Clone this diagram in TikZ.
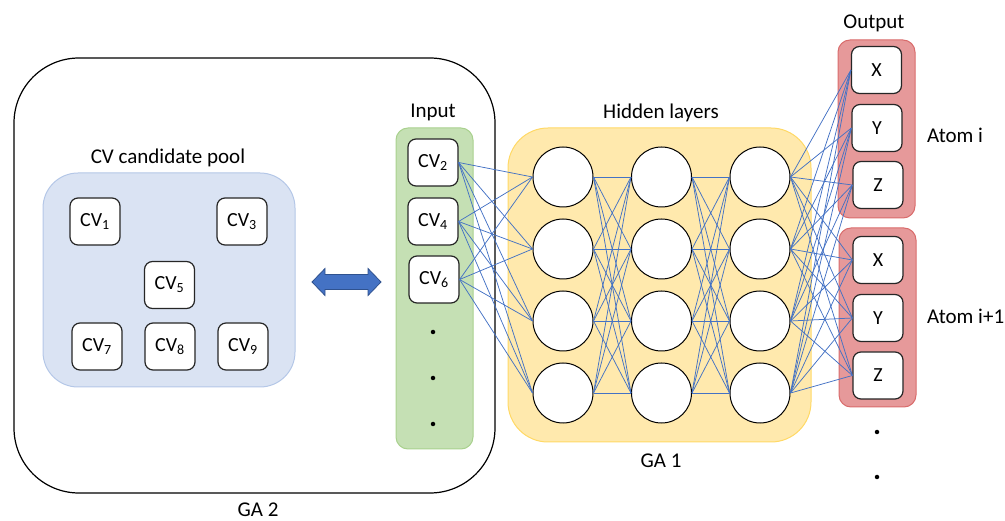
\documentclass[tikz,border=0pt]{standalone}
\usepackage{fontspec}
\setmainfont{Carlito}
\begin{document}
\begin{tikzpicture}[x=1pt,y=-1pt,
  lbl/.style={font=\fontsize{21}{24}\selectfont, inner sep=0pt},
  cvbox/.style={draw=black!85, line width=1.2pt, fill=white, rounded corners=8pt,
    minimum width=50pt, minimum height=47pt, inner sep=0pt, font=\fontsize{20}{22}\selectfont},
  neuron/.style={circle, draw=black, line width=1pt, fill=white, minimum size=60pt, inner sep=0pt},
  conn/.style={draw=blueL, line width=0.75pt},
  dotn/.style={circle, fill=black, minimum size=4.5pt, inner sep=0pt}
]
\definecolor{blueL}{HTML}{4472C4}
\definecolor{blueD}{HTML}{2F528F}
\definecolor{poolF}{HTML}{DAE3F3}
\definecolor{poolD}{HTML}{B4C7E7}
\definecolor{inF}{HTML}{C5E0B4}
\definecolor{inD}{HTML}{A9D18E}
\definecolor{hidF}{HTML}{FFE9AD}
\definecolor{hidD}{HTML}{FFD966}
\definecolor{outF}{HTML}{E6999A}
\definecolor{outD}{HTML}{D96C6C}
\useasboundingbox (0,0) rectangle (1005,521);
% containers
\draw[line width=1.2pt, rounded corners=65pt] (14,58) rectangle (495,493);
\node[lbl] (ga2) at (258,510) {GA 2};
\draw[draw=poolD, fill=poolF, line width=1pt, rounded corners=35pt] (43,173) rectangle (295,387);
\node[lbl] (pooll) at (168,158) {CV candidate pool};
\draw[draw=inD, fill=inF, line width=1pt, rounded corners=12pt] (396,128) rectangle (473,449);
\node[lbl] (inl) at (433,112) {Input};
\draw[draw=hidD, fill=hidF, line width=1pt, rounded corners=40pt] (508,128) rectangle (811,442);
\node[lbl] (hidl) at (661,113) {Hidden layers};
\node[lbl] (ga1) at (661,461) {GA 1};
\draw[draw=outD, fill=outF, line width=1pt, rounded corners=12pt] (838,40) rectangle (915,218);
\draw[draw=outD, fill=outF, line width=1pt, rounded corners=12pt] (839,228) rectangle (916,407);
\node[lbl] (outl) at (874,23) {Output};
\node[lbl, anchor=west] (atomi) at (927,135) {Atom i};
\node[lbl, anchor=west] (atomj) at (927,316) {Atom i+1};
% double arrow
\draw[draw=blueD, fill=blueL, line width=0.8pt] (312,282) -- (325,268.5) -- (325,274.5) -- (368,274.5) -- (368,268.5) -- (381,282) -- (368,295.5) -- (368,289.5) -- (325,289.5) -- (325,295.5) -- cycle;
% pool CVs
\node[cvbox] (cv1) at (95,221.5) {CV\textsubscript{1}};
\node[cvbox] (cv3) at (242,221.5) {CV\textsubscript{3}};
\node[cvbox] (cv5) at (169.5,285) {CV\textsubscript{5}};
\node[cvbox] (cv7) at (97,346.5) {CV\textsubscript{7}};
\node[cvbox] (cv8) at (170,346.5) {CV\textsubscript{8}};
\node[cvbox] (cv9) at (243,346.5) {CV\textsubscript{9}};
% input CVs
\node[cvbox] (in1) at (433,162.5) {CV\textsubscript{2}};
\node[cvbox] (in2) at (433,221.5) {CV\textsubscript{4}};
\node[cvbox] (in3) at (434,279.5) {CV\textsubscript{6}};
\node[dotn] (d1) at (433,332) {};
\node[dotn] (d2) at (433,378) {};
\node[dotn] (d3) at (433,424) {};
% neurons
\foreach \c/\x in {1/563,2/661.5,3/760}{
  \foreach \r/\y in {1/177,2/249,3/321,4/393}{
    \node[neuron] (h\c\r) at (\x,\y) {};
  }
}
% outputs
\node[cvbox] (o1) at (876.5,70) {X};
\node[cvbox] (o2) at (877,128) {Y};
\node[cvbox] (o3) at (878,185) {Z};
\node[cvbox] (o4) at (878,260) {X};
\node[cvbox] (o5) at (878,318) {Y};
\node[cvbox] (o6) at (878,375.5) {Z};
\node[dotn] (d4) at (877,432) {};
\node[dotn] (d5) at (877,477) {};
% connectors
\foreach \i in {1,2,3}{
  \foreach \r in {1,2,3,4}{
    \draw[conn] (in\i.east) -- (h1\r.west);
  }
}
\foreach \a in {1,2,3,4}{
  \foreach \b in {1,2,3,4}{
    \draw[conn] (h1\a.east) -- (h2\b.west);
    \draw[conn] (h2\a.east) -- (h3\b.west);
  }
}
\foreach \a in {1,2,3,4}{
  \foreach \o in {1,...,6}{
    \draw[conn] (h3\a.east) -- (o\o.west);
  }
}
\end{tikzpicture}
\end{document}
